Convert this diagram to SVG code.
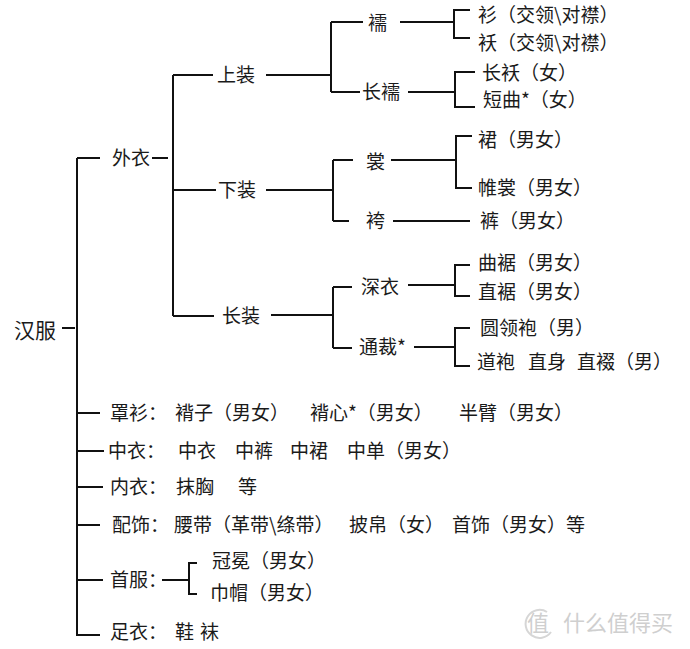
<svg xmlns="http://www.w3.org/2000/svg" width="690" height="649" viewBox="0 0 690 649">
<style>
text{font-family:"Noto Sans CJK SC","Noto Sans CJK TC",sans-serif;font-size:19px;fill:#1a1a1a}
.big{font-size:21px}
.wm{fill:#cfcfcf;font-size:22px}
#connectors path{fill:none;stroke:#111;stroke-width:2}
</style>
<rect width="690" height="649" fill="#fff"/>
<g id="connectors">
<path d="M77 158V636M62 328H75M77 158H100M152 158H168"/>
<path d="M173 75V316M173 75H213M266 75H331M173 190H216M266 190H333M173 316H214M271 315H333"/>
<path d="M331 22V92M331 22H363M400 22H454M470 10H454V38H470M331 92H360M408 92H455M475 72H455V107H475"/>
<path d="M333 160V221M333 160H353M391 160H456M472 136H456V188H472M333 221H349M393 221H470"/>
<path d="M333 287V348M333 287H352M408 285H455M470 265H455V296H470M333 348H352M414 347H455M470 328H455V366H470"/>
<path d="M77 413H100M77 451H104M77 487H103M77 525H100M77 580H103M77 635H100M162 580H189M197 563H189V594H197"/>
</g>
<g id="hanfu"><text class="big" x="14" y="338">汉服</text></g>
<g id="waiyi"><text x="112" y="165">外衣</text></g>
<g id="shangzhuang"><text x="217" y="82">上装</text></g>
<g id="xiazhuang"><text x="218" y="197">下装</text></g>
<g id="changzhuang"><text x="222" y="323">长装</text></g>
<g id="ru"><text x="368" y="30">襦</text></g>
<g id="changru"><text x="362" y="99">长襦</text></g>
<g id="chang"><text x="366" y="169">裳</text></g>
<g id="ku"><text x="366" y="228">袴</text></g>
<g id="shenyi"><text x="361" y="294">深衣</text></g>
<g id="tongcai"><text x="359" y="354">通裁*</text></g>
<g id="shan"><text x="478" y="22">衫（交领\对襟）</text></g>
<g id="ao"><text x="478" y="50">袄（交领\对襟）</text></g>
<g id="changao"><text x="482" y="80">长袄（女）</text></g>
<g id="duanqu"><text x="483" y="107">短曲*（女）</text></g>
<g id="qun"><text x="478" y="147">裙（男女）</text></g>
<g id="weichang"><text x="478" y="195">帷裳（男女）</text></g>
<g id="kuzi"><text x="480" y="228">裤（男女）</text></g>
<g id="quju"><text x="478" y="270">曲裾（男女）</text></g>
<g id="zhiju"><text x="478" y="299">直裾（男女）</text></g>
<g id="yuanlingpao"><text x="480" y="335">圆领袍（男）</text></g>
<g id="daopao"><text y="369"><tspan x="477">道袍</tspan><tspan x="528">直身</tspan><tspan x="577">直裰（男）</tspan></text></g>
<g id="zhaoshan"><text y="420"><tspan x="110">罩衫：</tspan><tspan x="175">褙子（男女）</tspan><tspan x="310">褙心*（男女）</tspan><tspan x="459">半臂（男女）</tspan></text></g>
<g id="zhongyi"><text y="458"><tspan x="108">中衣：</tspan><tspan x="178">中衣</tspan><tspan x="235">中裤</tspan><tspan x="290">中裙</tspan><tspan x="347">中单（男女）</tspan></text></g>
<g id="neiyi"><text y="494"><tspan x="110">内衣：</tspan><tspan x="176">抹胸</tspan><tspan x="238">等</tspan></text></g>
<g id="peishi"><text y="532"><tspan x="112">配饰：</tspan><tspan x="174">腰带（革带\绦带）</tspan><tspan x="349">披帛（女）</tspan><tspan x="452">首饰（男女）等</tspan></text></g>
<g id="shoufu"><text x="110" y="587">首服：</text></g>
<g id="guanmian"><text x="212" y="568">冠冕（男女）</text></g>
<g id="jinmao"><text x="210" y="600">巾帽（男女）</text></g>
<g id="zuyi"><text y="639"><tspan x="110">足衣：</tspan><tspan x="175">鞋</tspan><tspan x="200">袜</tspan></text></g>
<g id="watermark">
<path d="M547 612A14 14 0 1 0 551 632" fill="none" stroke="#d6d6d6" stroke-width="2"/>
<text class="wm" x="527" y="631">值</text>
<text class="wm" x="563" y="631">什么值得买</text>
</g>
</svg>
